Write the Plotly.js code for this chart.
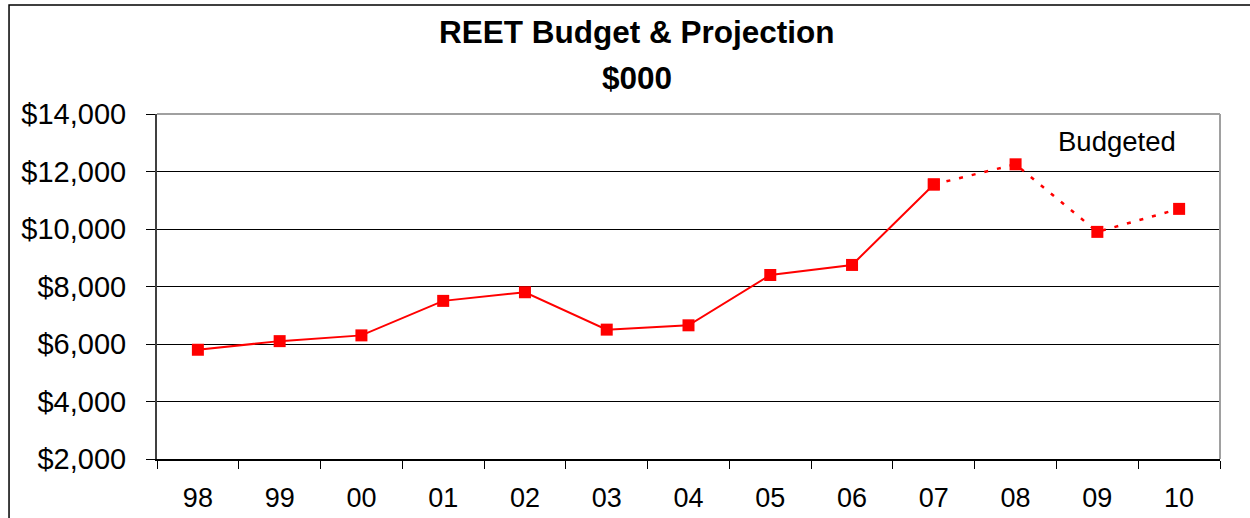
<!DOCTYPE html>
<html>
<head>
<meta charset="utf-8">
<script src="https://cdn.plot.ly/plotly-3.0.1.min.js"></script>
<style>html,body{margin:0;padding:0;background:#fff;}#chart{width:1250px;height:518px;}</style>
</head>
<body>
<div id="chart"></div>
<script>
const years = ['98','99','00','01','02','03','04','05','06','07','08','09','10'];
const actualYears = ['98','99','00','01','02','03','04','05','06','07'];
const actualValues = [5800, 6100, 6300, 7500, 7800, 6500, 6650, 8400, 8750, 11550];
const budgetYears = ['07','08','09','10'];
const budgetValues = [11550, 12250, 9900, 10700];
const yTicks = [2000, 4000, 6000, 8000, 10000, 12000, 14000];
const yTickLabels = ['$2,000','$4,000','$6,000','$8,000','$10,000','$12,000','$14,000'];

const font = 'Arial, "Liberation Sans", sans-serif';
const red = '#ff0000';

const traces = [
  {
    x: actualYears, y: actualValues, type: 'scatter', mode: 'lines+markers',
    line: {color: red, width: 2},
    marker: {symbol: 'square', size: 12, color: red},
    showlegend: false, hoverinfo: 'x+y'
  },
  {
    x: budgetYears, y: budgetValues, type: 'scatter', mode: 'lines+markers',
    line: {color: red, width: 2.5, dash: '4px,9px'},
    marker: {symbol: 'square', size: 12, color: red},
    showlegend: false, hoverinfo: 'x+y'
  }
];

const layout = {
  width: 1250, height: 518,
  margin: {l: 157, r: 30, t: 114, b: 59, pad: 0},
  paper_bgcolor: '#ffffff', plot_bgcolor: '#ffffff',
  font: {family: font, color: '#000', size: 28},
  xaxis: {
    type: 'category', categoryorder: 'array', categoryarray: years,
    range: [-0.5, 12.5], tickson: 'boundaries',
    ticks: 'outside', ticklen: 8, tickcolor: '#000', tickwidth: 1,
    showgrid: false, showline: true, linecolor: '#000', linewidth: 1.5,
    tickfont: {family: font, size: 27, color: '#000'},
    ticklabelstandoff: 14, zeroline: false, fixedrange: true
  },
  yaxis: {
    range: [2000, 14000], tickvals: yTicks, ticktext: yTickLabels,
    ticks: 'outside', ticklen: 9, tickcolor: '#000', tickwidth: 1,
    showgrid: true, gridcolor: '#000', gridwidth: 1,
    showline: true, linecolor: '#404040', linewidth: 2,
    tickfont: {family: font, size: 29, color: '#000'},
    ticklabelstandoff: 14, zeroline: false, fixedrange: true
  },
  shapes: [
    {type: 'line', xref: 'paper', yref: 'paper', x0: 0, x1: 1, y0: 1, y1: 1, line: {color: '#a0a0a0', width: 2}, layer: 'above'},
    {type: 'line', xref: 'paper', yref: 'paper', x0: 1, x1: 1, y0: 0, y1: 1, line: {color: '#a0a0a0', width: 2}, layer: 'above'},
    {type: 'rect', xref: 'paper', yref: 'paper', x0: -0.1392, x1: 1.06, y0: -0.21, y1: 1.316, line: {color: '#000', width: 1.5}, fillcolor: 'rgba(0,0,0,0)', layer: 'below'}
  ],
  annotations: [
    {text: '<b>REET Budget &amp; Projection</b>', xref: 'paper', yref: 'paper', x: 0.452, y: 1.238, xanchor: 'center', yanchor: 'middle', showarrow: false, font: {family: font, size: 31.5, color: '#000'}},
    {text: '<b>$000</b>', xref: 'paper', yref: 'paper', x: 0.452, y: 1.105, xanchor: 'center', yanchor: 'middle', showarrow: false, font: {family: font, size: 31.5, color: '#000'}},
    {text: 'Budgeted', xref: 'paper', yref: 'paper', x: 0.903, y: 0.921, xanchor: 'center', yanchor: 'middle', showarrow: false, font: {family: font, size: 27.5, color: '#000'}}
  ]
};

Plotly.newPlot('chart', traces, layout, {displayModeBar: false, responsive: false, staticPlot: true});
</script>
</body>
</html>
